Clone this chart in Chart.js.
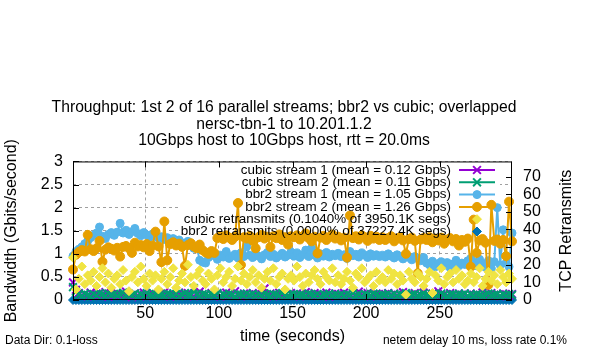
<!DOCTYPE html>
<html>
<head>
<meta charset="utf-8">
<title>Throughput: bbr2 vs cubic</title>
<script src="https://cdn.jsdelivr.net/npm/chart.js@4.4.1/dist/chart.umd.min.js"></script>
<style>
  html, body { margin: 0; padding: 0; background: #fff; }
  #chart { display: block; }
</style>
</head>
<body>
<canvas id="chart" width="600" height="350"></canvas>
<script>
// sample times (seconds)
const seconds = [
  1, 3, 5, 7, 9, 11, 13, 15, 17, 19, 21, 23, 25, 27, 29,
  31, 33, 35, 37, 39, 41, 43, 45, 47, 49, 51, 53, 55, 57, 59,
  61, 63, 65, 67, 69, 71, 73, 75, 77, 79, 81, 83, 85, 87, 89,
  91, 93, 95, 97, 99, 101, 103, 105, 107, 109, 111, 113, 115, 117, 119,
  121, 123, 125, 127, 129, 131, 133, 135, 137, 139, 141, 143, 145, 147, 149,
  151, 153, 155, 157, 159, 161, 163, 165, 167, 169, 171, 173, 175, 177, 179,
  181, 183, 185, 187, 189, 191, 193, 195, 197, 199, 201, 203, 205, 207, 209,
  211, 213, 215, 217, 219, 221, 223, 225, 227, 229, 231, 233, 235, 237, 239,
  241, 243, 245, 247, 249, 251, 253, 255, 257, 259, 261, 263, 265, 267, 269,
  271, 273, 275, 277, 279, 281, 283, 285, 287, 289, 291, 293, 295, 297, 299,
];

// Gbits/second
const cubic1 = [
  0.38, 0.22, 0.15, 0.10, 0.13, 0.08, 0.16, 0.11, 0.14, 0.09, 0.12, 0.17, 0.07, 0.13, 0.10,
  0.15, 0.09, 0.12, 0.18, 0.11, 0.06, 0.14, 0.10, 0.13, 0.16, 0.08, 0.12, 0.15, 0.09, 0.11,
  0.13, 0.17, 0.10, 0.07, 0.14, 0.12, 0.16, 0.09, 0.11, 0.15, 0.13, 0.08, 0.12, 0.18, 0.10,
  0.12, 0.09, 0.15, 0.11, 0.14, 0.07, 0.13, 0.16, 0.10, 0.12, 0.19, 0.11, 0.08, 0.14, 0.13,
  0.10, 0.15, 0.12, 0.09, 0.13, 0.25, 0.11, 0.14, 0.08, 0.12, 0.16, 0.10, 0.13, 0.09, 0.15,
  0.11, 0.14, 0.08, 0.13, 0.17, 0.10, 0.12, 0.15, 0.09, 0.13, 0.11, 0.16, 0.07, 0.12, 0.14,
  0.13, 0.10, 0.16, 0.12, 0.09, 0.14, 0.11, 0.18, 0.10, 0.13, 0.15, 0.08, 0.12, 0.14, 0.11,
  0.09, 0.13, 0.15, 0.11, 0.14, 0.10, 0.12, 0.17, 0.08, 0.13, 0.11, 0.15, 0.10, 0.12, 0.16,
  0.12, 0.08, 0.14, 0.11, 0.19, 0.10, 0.13, 0.09, 0.15, 0.12, 0.10, 0.14, 0.11, 0.13, 0.08,
  0.14, 0.11, 0.13, 0.09, 0.16, 0.12, 0.10, 0.15, 0.11, 0.13, 0.08, 0.14, 0.12, 0.10, 0.13,
];
const cubic2 = [
  0.28, 0.18, 0.12, 0.09, 0.14, 0.11, 0.08, 0.13, 0.10, 0.15, 0.12, 0.09, 0.14, 0.11, 0.13,
  0.10, 0.13, 0.16, 0.09, 0.12, 0.11, 0.14, 0.08, 0.12, 0.10, 0.15, 0.11, 0.09, 0.13, 0.12,
  0.11, 0.09, 0.14, 0.12, 0.10, 0.13, 0.08, 0.12, 0.15, 0.11, 0.10, 0.26, 0.12, 0.09, 0.13,
  0.12, 0.10, 0.13, 0.11, 0.15, 0.09, 0.12, 0.10, 0.14, 0.11, 0.08, 0.13, 0.12, 0.10, 0.14,
  0.11, 0.13, 0.09, 0.12, 0.10, 0.14, 0.11, 0.08, 0.13, 0.12, 0.10, 0.15, 0.11, 0.09, 0.12,
  0.13, 0.10, 0.12, 0.11, 0.09, 0.14, 0.12, 0.10, 0.13, 0.08, 0.12, 0.11, 0.14, 0.10, 0.12,
  0.10, 0.12, 0.09, 0.13, 0.11, 0.15, 0.10, 0.12, 0.08, 0.13, 0.11, 0.10, 0.14, 0.12, 0.09,
  0.12, 0.11, 0.14, 0.10, 0.13, 0.09, 0.12, 0.11, 0.15, 0.10, 0.12, 0.13, 0.09, 0.11, 0.14,
  0.11, 0.09, 0.13, 0.12, 0.10, 0.14, 0.11, 0.08, 0.12, 0.13, 0.10, 0.12, 0.11, 0.14, 0.09,
  0.12, 0.10, 0.13, 0.11, 0.09, 0.12, 0.14, 0.10, 0.11, 0.13, 0.09, 0.12, 0.10, 0.13, 0.11,
];
const bbr1 = [
  0.95, 1.05, 1.10, 1.15, 1.22, 1.28, 1.35, 1.40, 1.45, 1.58, 1.38, 1.33, 1.42, 1.46, 1.40,
  1.47, 1.66, 1.45, 1.51, 1.42, 1.48, 1.55, 1.44, 1.39, 1.46, 1.41, 1.36, 1.43, 1.38, 1.34,
  1.37, 1.31, 1.35, 1.29, 1.33, 1.26, 1.30, 1.24, 1.21, 1.27, 1.18, 1.12, 1.15, 0.86, 0.82,
  0.80, 0.92, 1.02, 0.96, 0.88, 0.97, 0.93, 1.05, 0.90, 0.95, 0.99, 0.91, 1.02, 0.94, 1.16,
  0.97, 0.92, 1.00, 0.95, 0.89, 0.98, 1.03, 0.94, 0.99, 0.91, 0.96, 1.01, 0.93, 0.97, 1.04,
  0.95, 1.02, 0.92, 0.98, 1.08, 0.94, 1.12, 0.97, 0.91, 1.00, 0.95, 1.03, 0.93, 0.99, 0.96,
  1.01, 0.94, 0.98, 0.90, 1.05, 0.96, 0.99, 0.93, 1.02, 0.97, 0.92, 1.00, 0.95, 0.98, 0.94,
  0.97, 0.93, 1.00, 0.95, 0.91, 0.98, 0.94, 0.89, 0.96, 0.92, 0.87, 0.94, 0.90, 0.85, 0.92,
  0.80, 0.76, 0.84, 0.72, 0.79, 0.83, 0.75, 0.81, 0.70, 0.78, 0.86, 0.74, 0.80, 0.77, 0.85,
  0.90, 0.82, 0.74, 0.88, 0.79, 0.71, 0.85, 0.68, 0.83, 2.00, 0.76, 1.52, 0.80, 0.72, 1.45,
];
const bbr2 = [
  0.66, 0.98, 1.04, 1.08, 1.05, 1.41, 1.10, 1.06, 1.12, 1.28, 0.83, 1.09, 1.14, 1.11, 1.07,
  1.13, 0.94, 1.15, 1.17, 1.12, 1.02, 1.24, 1.16, 1.19, 1.14, 1.21, 1.06, 1.18, 1.48, 1.16,
  0.82, 1.70, 0.86, 1.21, 1.25, 1.18, 1.22, 1.15, 0.74, 1.19, 1.23, 1.16, 1.12, 1.20, 1.08,
  1.03, 1.00, 1.06, 1.02, 1.34, 1.38, 1.32, 1.40, 1.35, 1.30, 1.37, 2.10, 0.76, 1.36, 1.33,
  1.39, 1.28, 1.12, 1.36, 1.41, 1.33, 1.37, 1.15, 1.38, 1.34, 1.42, 1.30, 1.36, 1.20, 1.38,
  1.36, 1.40, 1.31, 1.38, 1.44, 1.34, 1.27, 1.37, 1.01, 1.35, 1.39, 1.30, 1.36, 1.42, 1.33,
  1.37, 1.29, 1.35, 0.92, 1.83, 1.34, 1.38, 1.31, 1.40, 1.36, 1.28, 1.39, 1.33, 1.37, 1.30,
  1.36, 1.30, 1.34, 1.38, 1.27, 1.33, 1.36, 1.29, 1.00, 1.32, 1.35, 1.28, 0.58, 1.31, 1.34,
  1.30, 1.36, 1.25, 1.33, 1.29, 1.35, 1.22, 1.31, 1.34, 1.27, 1.32, 1.18, 1.30, 1.26, 1.33,
  0.72, 1.74, 1.02, 1.29, 1.32, 1.24, 0.33, 2.06, 1.28, 1.31, 1.22, 1.30, 0.95, 2.13, 1.27,
];

// TCP retransmits (right axis)
const cubicRetrans = [
  24, 6, 12, 19, 9, 14, 11, 16, 8, 13, 18, 10, 15, 7, 12,
  14, 9, 17, 11, 5, 13, 16, 10, 19, 12, 8, 15, 11, 14, 6,
  12, 16, 9, 13, 18, 7, 11, 15, 10, 20, 13, 8, 14, 17, 11,
  9, 15, 12, 6, 14, 18, 10, 13, 16, 8, 12, 19, 11, 15, 9,
  13, 17, 10, 14, 7, 12, 16, 11, 18, 9, 13, 15, 6, 12, 14,
  11, 19, 13, 8, 15, 10, 14, 17, 12, 9, 16, 13, 11, 18, 10,
  14, 9, 12, 16, 11, 7, 15, 13, 18, 10, 12, 14, 8, 16, 11,
  13, 10, 17, 12, 15, 9, 14, 11, 3, 16, 12, 10, 15, 13, 8,
  12, 16, 4, 14, 11, 18, 9, 13, 15, 10, 17, 12, 14, 9, 11,
  15, 10, 13, 18, 8, 12, 16, 11, 14, 9, 17, 13, 10, 15, 12,
];
const bbrRetrans = [
  0, 0, 0, 0, 0, 0, 0, 0, 0, 0, 0, 0, 0, 0, 0,
  0, 0, 0, 0, 0, 0, 0, 0, 0, 0, 0, 0, 0, 0, 0,
  0, 0, 0, 0, 0, 0, 0, 0, 0, 0, 0, 0, 0, 0, 0,
  0, 0, 0, 0, 0, 0, 0, 0, 0, 0, 0, 0, 0, 0, 0,
  0, 0, 0, 0, 0, 0, 0, 0, 0, 0, 0, 0, 0, 0, 0,
  0, 0, 0, 0, 0, 0, 0, 0, 0, 0, 0, 0, 0, 0, 0,
  0, 0, 0, 0, 0, 0, 0, 0, 0, 0, 0, 0, 0, 0, 0,
  0, 0, 0, 0, 0, 0, 0, 0, 0, 0, 0, 0, 0, 0, 0,
  0, 0, 0, 0, 0, 0, 0, 0, 0, 0, 0, 0, 0, 0, 0,
  0, 0, 0, 0, 0, 0, 0, 0, 0, 0, 0, 0, 0, 0, 0,
];

const seriesLabels = [
  "cubic stream 1 (mean = 0.12 Gbps)",
  "cubic stream 2 (mean = 0.11 Gbps)",
  "bbr2 stream 1 (mean = 1.05 Gbps)",
  "bbr2 stream 2 (mean = 1.26 Gbps)",
  "cubic retransmits (0.1040% of 3950.1K segs)",
  "bbr2 retransmits (0.0000% of 37227.4K segs)",
];
const titleLines = [
  "Throughput: 1st 2 of 16 parallel streams; bbr2 vs cubic; overlapped",
  "nersc-tbn-1 to 10.201.1.2",
  "10Gbps host to 10Gbps host, rtt = 20.0ms",
];
const xTicks = [50, 100, 150, 200, 250];
const yTicks = [0, 0.5, 1, 1.5, 2, 2.5, 3];
const y2Ticks = [0, 10, 20, 30, 40, 50, 60, 70];
const noteLeft = "Data Dir: 0.1-loss";
const noteRight = "netem delay 10 ms, loss rate 0.1%";

const FONT = "'Liberation Sans', Arial, Helvetica, sans-serif";
Chart.defaults.font.family = FONT;
Chart.defaults.color = "#000";

function points(values) {
  return values.map((v, i) => ({ x: seconds[i], y: v }));
}

function lineSeries(label, values, color, style, radius, order) {
  return {
    label,
    data: points(values),
    yAxisID: "y",
    borderColor: color,
    backgroundColor: color,
    borderWidth: 2,
    pointStyle: style,
    pointRadius: radius,
    pointBorderWidth: style === "crossRot" ? 2 : 1,
    pointBackgroundColor: color,
    pointBorderColor: color,
    showLine: true,
    tension: 0,
    clip: 6,
    order,
  };
}

function dotSeries(label, values, color, order) {
  return {
    label,
    data: points(values),
    yAxisID: "y2",
    borderColor: color,
    backgroundColor: color,
    pointStyle: "rectRot",
    pointRadius: 4.5,
    pointBorderWidth: 1,
    pointBackgroundColor: color,
    pointBorderColor: color,
    showLine: false,
    clip: 6,
    order,
  };
}

const datasets = [
  lineSeries(seriesLabels[0], cubic1, "#9400d3", "crossRot", 5.5, 5),
  lineSeries(seriesLabels[1], cubic2, "#009e73", "crossRot", 5.5, 4),
  lineSeries(seriesLabels[2], bbr1, "#56b4e9", "circle", 4, 3),
  lineSeries(seriesLabels[3], bbr2, "#e69f00", "circle", 4.5, 2),
  dotSeries(seriesLabels[4], cubicRetrans, "#f0e442", 1),
  dotSeries(seriesLabels[5], bbrRetrans, "#0072b2", 6),
];

// gnuplot-like key, frame, inward tics and footnotes
const key = { boxX: 181, boxY: 163, boxW: 319, boxH: 78, textX: 451, top: 170, step: 12.3, x1: 459, x2: 495 };

const decor = {
  id: "decor",
  beforeDatasetsDraw(chart) {
    const { ctx } = chart;
    ctx.save();
    ctx.fillStyle = "#fff";
    ctx.fillRect(key.boxX, key.boxY, key.boxW, key.boxH);
    ctx.restore();
  },
  afterDatasetsDraw(chart) {
    const { ctx, chartArea: a, scales } = chart;
    ctx.save();
    ctx.strokeStyle = "#000";
    ctx.lineWidth = 1;
    ctx.beginPath();
    yTicks.forEach((v) => {
      const y = Math.round(scales.y.getPixelForValue(v)) + 0.5;
      ctx.moveTo(a.left, y);
      ctx.lineTo(a.left + 6, y);
    });
    y2Ticks.forEach((v) => {
      const y = Math.round(scales.y2.getPixelForValue(v)) + 0.5;
      ctx.moveTo(a.right, y);
      ctx.lineTo(a.right - 6, y);
    });
    xTicks.forEach((v) => {
      const x = Math.round(scales.x.getPixelForValue(v)) + 0.5;
      ctx.moveTo(x, a.bottom);
      ctx.lineTo(x, a.bottom - 6);
      ctx.moveTo(x, a.top);
      ctx.lineTo(x, a.top + 6);
    });
    ctx.stroke();
    ctx.strokeRect(a.left + 0.5, a.top + 0.5, a.right - a.left - 1, a.bottom - a.top - 1);

    ctx.font = "13.4px " + FONT;
    ctx.textAlign = "right";
    ctx.textBaseline = "middle";
    chart.data.datasets.forEach((ds, i) => {
      const y = key.top + i * key.step;
      ctx.fillStyle = "#000";
      ctx.fillText(ds.label, key.textX, y);
      if (ds.showLine) {
        ctx.strokeStyle = ds.borderColor;
        ctx.lineWidth = ds.borderWidth;
        ctx.beginPath();
        ctx.moveTo(key.x1, y);
        ctx.lineTo(key.x2, y);
        ctx.stroke();
      }
      ctx.fillStyle = ds.pointBackgroundColor;
      ctx.strokeStyle = ds.pointBorderColor;
      ctx.lineWidth = ds.pointBorderWidth;
      Chart.helpers.drawPoint(ctx, {
        pointStyle: ds.pointStyle,
        radius: ds.pointRadius,
        rotation: 0,
        borderWidth: ds.pointBorderWidth,
      }, (key.x1 + key.x2) / 2, y);
    });
    ctx.restore();
  },
  afterDraw(chart) {
    const { ctx, chartArea: a } = chart;
    ctx.save();
    ctx.fillStyle = "#000";
    ctx.textBaseline = "middle";
    ctx.font = "12px " + FONT;
    ctx.textAlign = "left";
    ctx.fillText(noteLeft, 5, 341);
    ctx.textAlign = "right";
    ctx.fillText(noteRight, 567, 341);

    ctx.font = "16px " + FONT;
    ctx.textAlign = "center";
    ctx.translate(567, (a.top + a.bottom) / 2);
    ctx.rotate(-Math.PI / 2);
    ctx.fillText("TCP Retransmits", 0, 0);
    ctx.restore();
  },
};

const gridStyle = {
  color: "#a0a0a0",
  lineWidth: 1,
  drawTicks: false,
};

new Chart(document.getElementById("chart"), {
  type: "line",
  data: { datasets },
  options: {
    responsive: false,
    animation: false,
    events: [],
    // right padding shifts the title centre onto the plot like gnuplot does
    layout: { padding: { left: 0, top: 0, bottom: 0, right: 32 }, autoPadding: false },
    plugins: {
      legend: { display: false },
      tooltip: { enabled: false },
      title: {
        display: true,
        text: titleLines,
        color: "#000",
        font: { size: 15.7, weight: "normal", lineHeight: 1.05 },
        padding: { top: 99.5, bottom: 12.5 },
      },
    },
    scales: {
      x: {
        type: "linear",
        min: 1,
        max: 299,
        afterBuildTicks: (s) => { s.ticks = xTicks.map((v) => ({ value: v })); },
        afterFit: (s) => { s.height = 50; },
        grid: gridStyle,
        border: { display: false, dash: [3, 3] },
        ticks: { font: { size: 16 }, padding: 4, color: "#000", maxRotation: 0, autoSkip: false, callback: (v) => String(v) },
        title: { display: true, text: "time (seconds)", font: { size: 16 }, color: "#000", padding: { top: 0, bottom: 4 } },
      },
      y: {
        position: "left",
        min: 0,
        max: 3,
        afterBuildTicks: (s) => { s.ticks = yTicks.map((v) => ({ value: v })); },
        afterFit: (s) => { s.width = 73; },
        grid: gridStyle,
        border: { display: false, dash: [3, 3] },
        ticks: { font: { size: 16 }, padding: 10, color: "#000", autoSkip: false, callback: (v) => String(v) },
        title: { display: true, text: "Bandwidth (Gbits/second)", font: { size: 16 }, color: "#000", padding: { top: 2, bottom: 0 } },
      },
      y2: {
        position: "right",
        min: 0,
        max: 78.6,
        afterBuildTicks: (s) => { s.ticks = y2Ticks.map((v) => ({ value: v })); },
        afterFit: (s) => { s.width = 56; },
        grid: { display: false, drawTicks: false },
        border: { display: false },
        ticks: { font: { size: 16 }, padding: 11, color: "#000", autoSkip: false, callback: (v) => String(v) },
      },
    },
  },
  plugins: [decor],
});
</script>
</body>
</html>
